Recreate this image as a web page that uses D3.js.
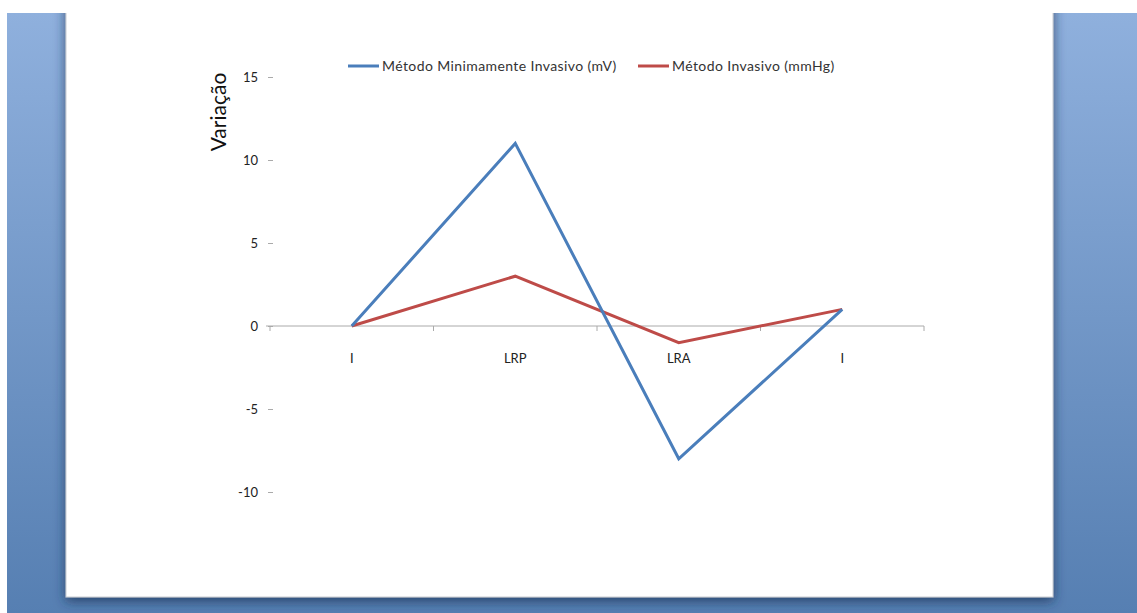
<!DOCTYPE html>
<html><head><meta charset="utf-8">
<script src="https://cdn.jsdelivr.net/npm/d3@7"></script>
<style>html,body{margin:0;padding:0;background:#fff;overflow:hidden}</style>
</head><body>
<script>
const categories = ["I", "LRP", "LRA", "I"];
const seriesNames = ["Método Minimamente Invasivo (mV)", "Método Invasivo (mmHg)"];
const minInvasivo = [0, 11, -8, 1];
const invasivo = [0, 3, -1, 1];
const yTicks = [15, 10, 5, 0, -5, -10];
const colors = ["#4a7ebb", "#be4b48"];

const W = 1137, H = 613;
const svg = d3.select("body").append("svg").attr("width", W).attr("height", H);
const defs = svg.append("defs");
const grad = defs.append("linearGradient").attr("id", "bg").attr("x1", 0).attr("y1", 0).attr("x2", 0).attr("y2", 1);
grad.append("stop").attr("offset", "0%").attr("stop-color", "#8fb0dd");
grad.append("stop").attr("offset", "100%").attr("stop-color", "#567fb2");
const f = defs.append("filter").attr("id", "sh").attr("x", "-5%").attr("y", "-5%").attr("width", "110%").attr("height", "115%");
f.append("feDropShadow").attr("dx", 0).attr("dy", 4).attr("stdDeviation", 6).attr("flood-color", "#1d3357").attr("flood-opacity", 0.75);

svg.append("rect").attr("x", 7).attr("y", 13).attr("width", W - 7).attr("height", H - 13).attr("fill", "url(#bg)");
svg.append("rect").attr("x", 66).attr("y", -20).attr("width", 987).attr("height", 617)
  .attr("fill", "#fff").attr("stroke", "#c8ccd2").attr("stroke-width", 1).attr("filter", "url(#sh)");
svg.append("rect").attr("x", 0).attr("y", 0).attr("width", W).attr("height", 13).attr("fill", "#fff");

const x = d3.scaleBand().domain(d3.range(categories.length)).range([270, 924]);
const y = d3.scaleLinear().domain([-10, 15]).range([492, 77]);
const font = "Lato, 'Open Sans', sans-serif";

const g = svg.append("g");
const yAxis = d3.axisLeft(y).tickValues(yTicks).tickSize(5).tickPadding(10).tickFormat(d => String(d));
const ya = g.append("g").attr("transform", "translate(273,0)").call(yAxis);
ya.select(".domain").remove();
ya.selectAll(".tick line").attr("stroke", "#aaa");
ya.selectAll(".tick text").attr("font-family", font).attr("font-size", 13).attr("fill", "#222");

const xa = g.append("g").attr("transform", `translate(0,${y(0)})`);
xa.append("line").attr("x1", x.range()[0] - 4).attr("x2", x.range()[1]).attr("stroke", "#aaa");
xa.selectAll("line.t").data(d3.range(categories.length + 1)).join("line").attr("class", "t")
  .attr("x1", i => x.range()[0] + i * x.step()).attr("x2", i => x.range()[0] + i * x.step())
  .attr("y1", 0).attr("y2", 5).attr("stroke", "#aaa");
xa.selectAll("text").data(categories).join("text")
  .attr("x", (d, i) => x(i) + x.bandwidth() / 2).attr("y", 37).attr("text-anchor", "middle")
  .attr("font-family", font).attr("font-size", 13).attr("fill", "#222").text(d => d);

const line = d3.line().x((d, i) => x(i) + x.bandwidth() / 2).y(d => y(d));
[invasivo, minInvasivo].forEach((s, k) => {
  g.append("path").datum(s).attr("d", line).attr("fill", "none")
    .attr("stroke", k === 0 ? colors[1] : colors[0]).attr("stroke-width", 3).attr("stroke-linejoin", "miter");
});

svg.append("text").attr("transform", "translate(226,112) rotate(-90)").attr("text-anchor", "middle")
  .attr("font-family", font).attr("font-size", 21).attr("fill", "#111").text("Variação");

const lg = svg.append("g");
const legX = [348, 638];
seriesNames.forEach((n, i) => {
  lg.append("line").attr("x1", legX[i]).attr("x2", legX[i] + 31).attr("y1", 66).attr("y2", 66)
    .attr("stroke", colors[i]).attr("stroke-width", 3);
  lg.append("text").attr("x", legX[i] + 34).attr("y", 71).attr("letter-spacing", 0.4)
    .attr("font-family", font).attr("font-size", 14).attr("fill", "#333").text(n);
});
</script>
</body></html>
